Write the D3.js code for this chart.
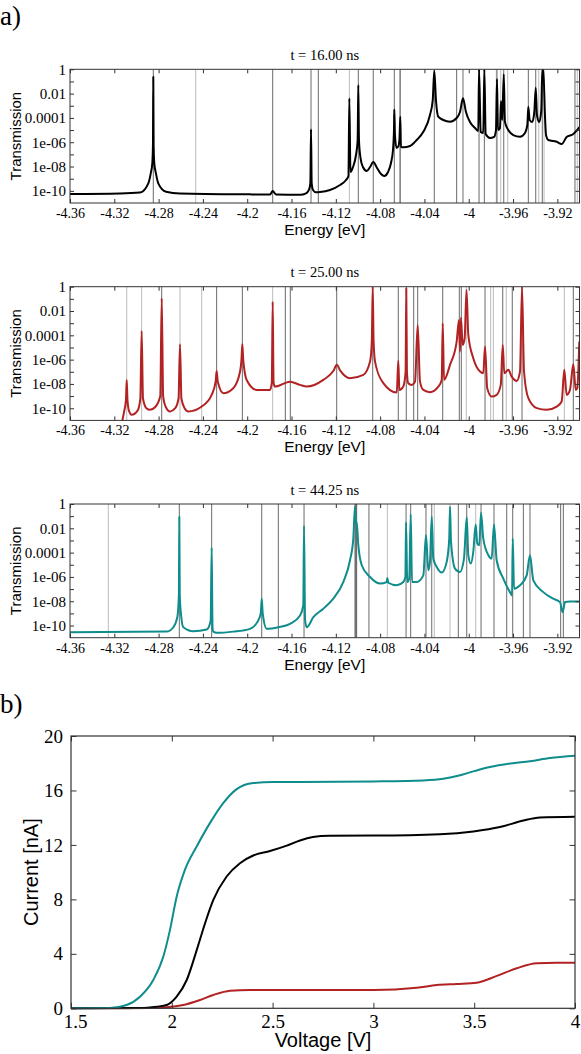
<!DOCTYPE html>
<html><head><meta charset="utf-8">
<script src="https://cdn.jsdelivr.net/npm/d3@7"></script>
<style>body{margin:0;background:#fff}</style>
</head><body><svg id="c" width="581" height="1054"></svg>
<script>
// ---------- DATA ----------
const energyTicks = [-4.36,-4.32,-4.28,-4.24,-4.2,-4.16,-4.12,-4.08,-4.04,-4,-3.96,-3.92];
const energyTickLabels = ["-4.36","-4.32","-4.28","-4.24","-4.2","-4.16","-4.12","-4.08","-4.04","-4","-3.96","-3.92"];
const transTicks = [1,1e-1,1e-2,1e-3,1e-4,1e-5,1e-6,1e-7,1e-8,1e-9,1e-10];
const transTickLabels = ["1","","0.01","","0.0001","","1e-06","","1e-08","","1e-10"];
const panelTitles = ["t = 16.00 ns","t = 25.00 ns","t = 44.25 ns"];

// transmission spectra: [energy eV, log10(T)]
const curve16 = [[-4.3600,-10.26],[-4.3149,-10.22],[-4.2968,-10.14],[-4.2893,-9.38],[-4.2871,-8.56],[-4.2857,-7.74],[-4.2851,-6.2],[-4.2848,-0.61],[-4.2845,-6.2],[-4.2839,-7.74],[-4.2824,-8.56],[-4.2803,-9.38],[-4.2733,-10.07],[-4.2607,-10.22],[-4.1975,-10.29],[-4.1794,-10.30],[-4.1770,-10.02],[-4.1740,-10.30],[-4.1523,-10.32],[-4.1469,-10.2],[-4.1442,-9.9],[-4.1430,-9.36],[-4.1424,-4.94],[-4.1418,-9.36],[-4.1406,-9.93],[-4.1379,-10.12],[-4.1343,-10.10],[-4.1253,-9.93],[-4.1162,-9.52],[-4.1108,-9.11],[-4.1086,-8.78],[-4.1078,-2.39],[-4.1068,-8.45],[-4.1045,-8.04],[-4.1018,-7.05],[-4.1003,-5.82],[-4.0997,-1.29],[-4.0991,-5.82],[-4.0977,-7.30],[-4.0955,-8.04],[-4.0921,-8.37],[-4.0891,-8.04],[-4.0862,-7.63],[-4.0828,-8.12],[-4.0792,-8.62],[-4.0762,-8.78],[-4.0729,-8.45],[-4.0702,-7.71],[-4.0684,-6.64],[-4.0675,-4.99],[-4.0672,-3.29],[-4.0666,-5.41],[-4.0652,-6.48],[-4.0634,-6.3],[-4.0625,-5.65],[-4.0618,-3.90],[-4.0612,-6.40],[-4.0591,-6.42],[-4.0530,-6.31],[-4.0470,-5.82],[-4.0410,-5.14],[-4.0350,-3.76],[-4.0325,-2.53],[-4.0311,-0.12],[-4.0296,-2.53],[-4.0275,-3.90],[-4.0230,-4.17],[-4.0169,-4.31],[-4.0109,-4.01],[-4.0079,-3.51],[-4.0052,-2.39],[-4.0025,-3.51],[-3.9989,-4.34],[-3.9943,-4.83],[-3.9914,-5.08],[-3.9907,-0.02],[-3.9892,-5.16],[-3.9869,-5.24],[-3.9859,0],[-3.9847,-5.33],[-3.9808,-5.65],[-3.9772,-5.57],[-3.9754,-5.00],[-3.9745,-0.80],[-3.9736,-5.00],[-3.9718,-4.83],[-3.9709,-2.61],[-3.9697,-4.17],[-3.9684,-0.41],[-3.9673,-4.34],[-3.9643,-5.00],[-3.9598,-5.41],[-3.9537,-5.55],[-3.9492,-5.24],[-3.9471,-4.58],[-3.9462,-3.08],[-3.9450,-4.17],[-3.9426,-4.34],[-3.9408,-3.51],[-3.9395,-1.51],[-3.9384,-3.76],[-3.9363,-4.34],[-3.9345,-3.35],[-3.9336,0],[-3.9327,0],[-3.9311,-4.01],[-3.9302,-5.41],[-3.9282,-5.82],[-3.9206,-5.96],[-3.9161,-6.15],[-3.9116,-5.57],[-3.9056,-5.33],[-3.9000,-4.75]];

const curve25 = [[-4.3140,-11.5],[-4.3112,-10.3],[-4.3095,-9.3],[-4.3088,-7.67],[-4.3081,-9.3],[-4.3068,-10.2],[-4.3043,-10.54],[-4.2990,-10.2],[-4.2965,-9.2],[-4.2953,-3.64],[-4.2941,-9.2],[-4.2910,-10.0],[-4.2878,-10.13],[-4.2830,-9.9],[-4.2785,-9.0],[-4.2772,-0.95],[-4.2759,-9.0],[-4.2735,-9.9],[-4.2697,-10.27],[-4.2650,-10.0],[-4.2620,-9.2],[-4.2607,-4.73],[-4.2594,-9.2],[-4.2565,-10.0],[-4.2532,-10.27],[-4.2411,-9.86],[-4.2321,-8.90],[-4.2285,-7.8],[-4.2276,-6.93],[-4.2266,-7.8],[-4.2216,-8.76],[-4.2126,-8.35],[-4.2065,-7.0],[-4.2052,-6.0],[-4.2044,-4.73],[-4.2036,-6.0],[-4.2005,-7.67],[-4.1914,-8.49],[-4.1794,-8.49],[-4.1778,-7.9],[-4.1770,-1.23],[-4.1762,-7.9],[-4.1749,-8.22],[-4.1614,-7.81],[-4.1523,-8.08],[-4.1463,-8.22],[-4.1313,-7.67],[-4.1220,-6.9],[-4.1192,-6.43],[-4.1160,-6.9],[-4.1072,-7.53],[-4.0952,-7.26],[-4.0891,-6.16],[-4.0875,-4.5],[-4.0867,0],[-4.0859,-4.5],[-4.0846,-6.16],[-4.0771,-7.94],[-4.0650,-8.71],[-4.0636,-6.10],[-4.0626,-8.5],[-4.0591,-8.22],[-4.0570,-7.0],[-4.0564,-0.13],[-4.0558,-7.0],[-4.0546,-7.94],[-4.0515,-8.08],[-4.0485,-7.81],[-4.0461,-3.15],[-4.0440,-7.81],[-4.0410,-8.49],[-4.0350,-8.68],[-4.0275,-8.22],[-4.0244,-7.67],[-4.0235,-3.01],[-4.0223,-7.67],[-4.0169,-6.43],[-4.0109,-4.52],[-4.0088,-2.74],[-4.0079,-5.34],[-4.0070,-2.55],[-4.0055,-4.79],[-4.0037,-4.24],[-4.0020,-0.27],[-4.0004,-3.97],[-3.9959,-5.88],[-3.9898,-6.98],[-3.9869,-7.12],[-3.9853,-4.93],[-3.9833,-8.35],[-3.9793,-9.04],[-3.9748,-8.90],[-3.9711,-8.08],[-3.9693,-4.79],[-3.9679,-7.12],[-3.9643,-6.84],[-3.9612,-7.40],[-3.9567,-7.75],[-3.9537,-6.98],[-3.9519,0],[-3.9501,-6.98],[-3.9462,-9.17],[-3.9386,-9.99],[-3.9296,-10.13],[-3.9206,-9.86],[-3.9161,-9.45],[-3.9137,-6.84],[-3.9116,-8.90],[-3.9086,-8.49],[-3.9056,-6.38],[-3.9034,-8.49],[-3.9020,-8.35],[-3.9002,-4.52]];

const curve44 = [[-4.3600,-10.55],[-4.2727,-10.50],[-4.2667,-10.14],[-4.2631,-9.31],[-4.2617,-7.5],[-4.2613,-1.05],[-4.2609,-7.5],[-4.2595,-9.31],[-4.2577,-10.14],[-4.2487,-10.47],[-4.2366,-10.33],[-4.2330,-9.6],[-4.2321,-3.58],[-4.2313,-10.2],[-4.2306,-10.5],[-4.2276,-10.6],[-4.2126,-10.50],[-4.1975,-10.27],[-4.1909,-9.72],[-4.1878,-9.0],[-4.1869,-7.79],[-4.1860,-9.0],[-4.1824,-10.27],[-4.1719,-10.14],[-4.1614,-9.86],[-4.1523,-9.17],[-4.1494,-8.35],[-4.1487,-1.79],[-4.1478,-9.5],[-4.1463,-10.14],[-4.1403,-9.31],[-4.1313,-8.62],[-4.1223,-7.79],[-4.1133,-6.42],[-4.1072,-4.63],[-4.1042,-2.83],[-4.1027,-0.22],[-4.1020,-1.6],[-4.1012,-1.46],[-4.0997,-3.39],[-4.0966,-5.04],[-4.0891,-6.01],[-4.0801,-6.55],[-4.0741,-6.42],[-4.0735,-6.09],[-4.0726,-6.48],[-4.0650,-6.69],[-4.0591,-6.42],[-4.0572,-6.0],[-4.0566,-1.51],[-4.0555,-6.42],[-4.0537,-6.1],[-4.0524,-0.85],[-4.0512,-6.42],[-4.0470,-6.42],[-4.0410,-5.87],[-4.0386,-2.56],[-4.0365,-5.45],[-4.0350,-4.76],[-4.0334,-1.05],[-4.0320,-4.49],[-4.0289,-5.18],[-4.0244,-5.64],[-4.0199,-4.76],[-4.0176,-2.83],[-4.0169,-0.22],[-4.0160,-3.1],[-4.0124,-5.31],[-4.0079,-5.59],[-4.0043,-4.49],[-4.0018,-1.10],[-4.0004,-4.21],[-3.9982,-4.90],[-3.9959,-3.93],[-3.9937,-1.68],[-3.9923,-3.25],[-3.9905,-3.39],[-3.9889,-0.72],[-3.9869,-2.83],[-3.9823,-4.21],[-3.9793,-4.49],[-3.9772,-1.68],[-3.9748,-4.63],[-3.9688,-6.14],[-3.9628,-7.25],[-3.9609,-7.52],[-3.9603,-2.83],[-3.9591,-6.97],[-3.9537,-6.69],[-3.9477,-5.87],[-3.9447,-4.21],[-3.9417,-6.28],[-3.9327,-7.25],[-3.9237,-7.79],[-3.9176,-8.07],[-3.9152,-8.90],[-3.9131,-8.07],[-3.9086,-8.02],[-3.9000,-8.02]];

// eigen-energies (vertical lines)
const levels16Dark = [-4.2848,-4.1770,-4.1424,-4.1358,-4.0997,-4.0862,-4.0672,-4.0618,-4.0311,-4.0109,-4.0052,-3.9907,-3.9859,-3.9745,-3.9684,-3.9462,-3.9395,-3.9336,-3.9041];
const levels16Light = [-4.2465,-4.1078,-4.0625,-3.9751,-3.9711,-3.9648,-3.9368,-3.9320,-3.9020];
const levels25Dark = [-4.2772,-4.2276,-4.2044,-4.1656,-4.1611,-4.1192,-4.0867,-4.0636,-4.0564,-4.0497,-4.0461,-4.0235,-4.0085,-4.0067,-3.9853,-3.9693,-3.9607,-3.9519,-3.9056];
const levels25Light = [-4.3088,-4.2953,-4.2607,-4.2411,-4.1770,-4.0022,-3.9802,-3.9778,-3.9661,-3.9137];
const levels44Dark = [-4.2613,-4.2321,-4.1869,-4.1719,-4.1487,-4.1027,-4.1021,-4.1015,-4.1012,-4.0901,-4.0566,-4.0524,-4.0386,-4.0334,-4.0094,-4.0018,-3.9889,-3.9772,-3.9657,-3.9603,-3.9507,-3.9447,-3.9170,-3.9146];
const levels44Light = [-4.3254,-4.0735,-4.0311,-4.0169,-3.9937];

// I-V curves
const voltageTicks = [1.5,2,2.5,3,3.5,4];
const voltageTickLabels = ["1.5","2","2.5","3","3.5","4"];
const currentTicks = [0,4,8,12,16,20];
const ivTealV = [1.5,1.693,1.776,1.842,1.908,1.958,1.991,2.024,2.065,2.124,2.189,2.255,2.322,2.404,2.503,2.636,2.999,3.248,3.347,3.420,3.500,3.578,3.680,3.777,3.876,4.0];
const ivTealI = [0,0.02,0.24,0.85,2.08,3.8,5.76,8.2,10.17,11.9,13.6,15.07,16.1,16.54,16.62,16.62,16.66,16.74,16.86,17.08,17.42,17.72,17.98,18.15,18.38,18.55];
const ivBlackV = [1.5,1.842,1.925,1.975,2.024,2.074,2.124,2.165,2.206,2.272,2.338,2.404,2.487,2.570,2.636,2.700,2.780,2.999,3.330,3.496,3.628,3.744,3.826,4.0];
const ivBlackI = [0,0.02,0.12,0.24,0.85,2.08,4.29,6.25,7.96,9.68,10.66,11.22,11.55,11.95,12.33,12.58,12.68,12.69,12.79,12.99,13.31,13.79,14.01,14.07];
const ivRedV = [1.5,1.892,1.975,2.057,2.140,2.206,2.289,2.388,2.636,3.0,3.215,3.314,3.413,3.512,3.612,3.711,3.810,3.909,4.0];
const ivRedI = [0,0.02,0.07,0.24,0.61,0.98,1.29,1.35,1.35,1.35,1.51,1.71,1.79,1.88,2.38,2.94,3.31,3.35,3.35];

// ---------- DRAWING ----------
const svg = d3.select("#c");
svg.append("rect").attr("width",581).attr("height",1054).attr("fill","#fff");
const SERIF = "'Liberation Serif', 'Times New Roman', serif";
const SANS = "'Liberation Sans', Arial, sans-serif";
const BLACK = "#000", RED = "#b22222", TEAL = "#0f8c8c";
const FRAME = "#333";

svg.append("text").attr("x",0).attr("y",25).style("font-family",SERIF).style("font-size","27px").text("a)");
svg.append("text").attr("x",0).attr("y",713).style("font-family",SERIF).style("font-size","27px").text("b)");

const panels = [
  {top:69.3, curve:curve16, dark:levels16Dark, light:levels16Light, color:BLACK, title:panelTitles[0]},
  {top:286.7, curve:curve25, dark:levels25Dark, light:levels25Light, color:RED, title:panelTitles[1]},
  {top:504.0, curve:curve44, dark:levels44Dark, light:levels44Light, color:TEAL, title:panelTitles[2]}
];
const L = 70, R = 579.5, H = 133.7;

panels.forEach((p,i) => {
  const g = svg.append("g");
  const bottom = p.top + H;
  const x = d3.scaleLinear().domain([-4.36,-3.90]).range([L,R]);
  const y = d3.scaleLog().domain([1e-11,1]).range([bottom,p.top]);
  const cid = "clipA"+i;
  svg.append("clipPath").attr("id",cid).append("rect")
    .attr("x",L).attr("y",p.top).attr("width",R-L).attr("height",H);
  const inner = g.append("g").attr("clip-path",`url(#${cid})`);
  inner.selectAll("line.lt").data(p.light).join("line").attr("class","lt")
    .attr("x1",d=>x(d)).attr("x2",d=>x(d)).attr("y1",p.top).attr("y2",bottom)
    .attr("stroke","#bcbcbc").attr("stroke-width",1);
  inner.selectAll("line.dk").data(p.dark).join("line").attr("class","dk")
    .attr("x1",d=>x(d)).attr("x2",d=>x(d)).attr("y1",p.top).attr("y2",bottom)
    .attr("stroke","#6a6a6a").attr("stroke-width",1);
  const line = d3.line().x(d=>x(d[0])).y(d=>y(Math.pow(10,d[1]))).curve(d3.curveMonotoneX);
  inner.append("path").datum(p.curve).attr("d",line)
    .attr("fill","none").attr("stroke",p.color).attr("stroke-width",2).attr("stroke-linejoin","round");

  // axes
  const ax = g.append("g").attr("transform",`translate(0,${bottom})`)
    .call(d3.axisBottom(x).tickValues(energyTicks).tickSize(-4).tickPadding(5)
      .tickFormat((d,j)=>energyTickLabels[j]));
  const at = g.append("g").attr("transform",`translate(0,${p.top})`)
    .call(d3.axisTop(x).tickValues(energyTicks).tickSize(-4).tickFormat(""));
  const al = g.append("g").attr("transform",`translate(${L},0)`)
    .call(d3.axisLeft(y).tickValues(transTicks).tickSize(-4).tickPadding(4)
      .tickFormat((d,j)=>transTickLabels[j]));
  const ar = g.append("g").attr("transform",`translate(${R},0)`)
    .call(d3.axisRight(y).tickValues(transTicks).tickSize(-4).tickFormat(""));
  [ax,at,al,ar].forEach(a=>{
    a.attr("font-family",null).attr("font-size",null);
    a.select(".domain").remove();
    a.selectAll(".tick line").attr("stroke",FRAME);
    a.selectAll("text").style("font-family",SERIF).attr("fill","#000");
  });
  ax.selectAll("text").style("font-size","14px");
  al.selectAll("text").style("font-size","15px");
  g.append("rect").attr("x",L).attr("y",p.top).attr("width",R-L).attr("height",H)
    .attr("fill","none").attr("stroke",FRAME).attr("stroke-width",1);

  g.append("text").attr("x",(L+R)/2).attr("y",p.top-9.5).attr("text-anchor","middle")
    .style("font-family",SERIF).style("font-size","14.5px").text(p.title);
  g.append("text").attr("x",(L+R)/2).attr("y",bottom+32).attr("text-anchor","middle")
    .style("font-family",SANS).style("font-size","15.5px").text("Energy [eV]");
  g.append("text").attr("transform",`translate(20.5,${p.top+H/2}) rotate(-90)`)
    .attr("text-anchor","middle").style("font-family",SANS).style("font-size","15px").text("Transmission");
});

// ---------- panel b ----------
{
  const BL = 71, BR = 575, BT = 736, BB = 1008.3;
  const x = d3.scaleLinear().domain([1.5,4]).range([BL,BR]);
  const y = d3.scaleLinear().domain([0,20]).range([BB,BT]);
  const g = svg.append("g");
  svg.append("clipPath").attr("id","clipB").append("rect")
    .attr("x",BL).attr("y",BT).attr("width",BR-BL).attr("height",BB-BT+2);
  const inner = g.append("g").attr("clip-path","url(#clipB)");
  const series = [
    {v:ivRedV, i:ivRedI, c:RED},
    {v:ivBlackV, i:ivBlackI, c:BLACK},
    {v:ivTealV, i:ivTealI, c:TEAL}
  ];
  const line = d3.line().x(d=>x(d[0])).y(d=>y(d[1])).curve(d3.curveMonotoneX);
  series.forEach(s=>{
    inner.append("path").datum(s.v.map((v,k)=>[v,s.i[k]])).attr("d",line)
      .attr("fill","none").attr("stroke",s.c).attr("stroke-width",2);
  });
  const ax = g.append("g").attr("transform",`translate(0,${BB})`)
    .call(d3.axisBottom(x).tickValues(voltageTicks).tickSize(-5.5).tickPadding(6.5)
      .tickFormat((d,j)=>voltageTickLabels[j]));
  const at = g.append("g").attr("transform",`translate(0,${BT})`)
    .call(d3.axisTop(x).tickValues(voltageTicks).tickSize(-5.5).tickFormat(""));
  const al = g.append("g").attr("transform",`translate(${BL},0)`)
    .call(d3.axisLeft(y).tickValues(currentTicks).tickSize(-5.5).tickPadding(8)
      .tickFormat(d3.format("d")));
  const ar = g.append("g").attr("transform",`translate(${BR},0)`)
    .call(d3.axisRight(y).tickValues(currentTicks).tickSize(-5.5).tickFormat(""));
  [ax,at,al,ar].forEach(a=>{
    a.attr("font-family",null).attr("font-size",null);
    a.select(".domain").remove();
    a.selectAll(".tick line").attr("stroke",FRAME);
    a.selectAll("text").style("font-family",SERIF).style("font-size","19px").attr("fill","#000");
  });
  // first voltage label sits slightly right of its tick, as in the reference
  ax.selectAll(".tick text").filter((d,j)=>j===0).attr("dx",4);
  g.append("rect").attr("x",BL).attr("y",BT).attr("width",BR-BL).attr("height",BB-BT)
    .attr("fill","none").attr("stroke",FRAME).attr("stroke-width",1.2);
  g.append("text").attr("x",(BL+BR)/2).attr("y",1046.5).attr("text-anchor","middle")
    .style("font-family",SANS).style("font-size","20px").text("Voltage [V]");
  g.append("text").attr("transform",`translate(38,${(BT+BB)/2}) rotate(-90)`)
    .attr("text-anchor","middle").style("font-family",SANS).style("font-size","20px").text("Current [nA]");
}
</script>
</body></html>
